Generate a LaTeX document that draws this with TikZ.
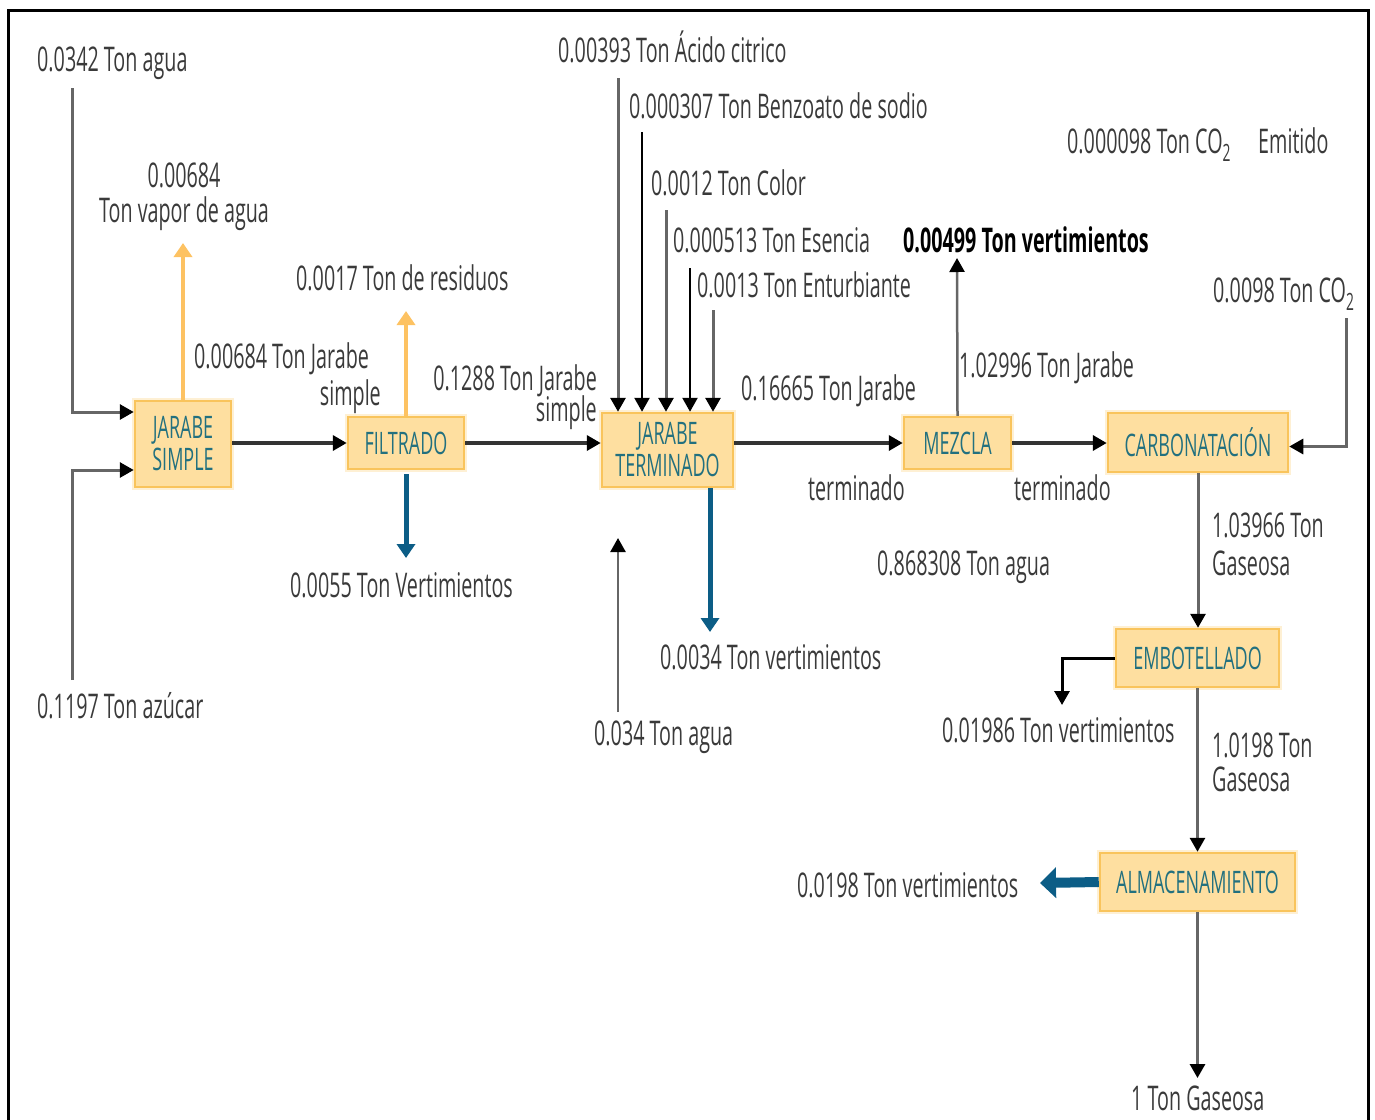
\documentclass[tikz,border=0pt]{standalone}
\usepackage{fontspec}
\setmainfont{Open Sans}[FakeStretch=0.58]
\usetikzlibrary{arrows.meta}
\definecolor{boxfill}{HTML}{FEDFA0}
\definecolor{boxline}{HTML}{F9C45C}
\definecolor{boxhalo}{HTML}{FEF0D4}
\definecolor{boxtext}{HTML}{22707F}
\definecolor{orangearr}{HTML}{FDC262}
\definecolor{bluearr}{HTML}{0C5D86}
\definecolor{labeltext}{HTML}{3A3A3A}
\definecolor{greyline}{HTML}{666666}
\begin{document}
\begin{tikzpicture}[x=1pt,y=-1pt,
 proc/.style={draw=boxline, line width=2.5pt, fill=boxfill, text=boxtext,
   font=\fontsize{31}{32}\selectfont, align=center, inner sep=0pt,
   preaction={draw=boxhalo, line width=6pt}},
 lbl/.style={text=labeltext, font=\fontsize{34}{36}\selectfont, inner sep=0pt, anchor=base west},
 lblr/.style={lbl, anchor=base east},
 blacktip/.style={-{Triangle[length=14pt,width=15pt,color=black]}},
 mainarr/.style={draw=black!80, line width=4pt, blacktip},
 inarr/.style={draw=greyline, line width=3pt, blacktip},
 thinarr/.style={draw=greyline, line width=2.5pt, blacktip},
 orarr/.style={draw=orangearr, line width=4pt, -{Triangle[length=14pt,width=18pt]}},
 bluearrow/.style={draw=bluearr, line width=5pt, -{Triangle[length=14pt,width=18pt]}},
 bigblue/.style={draw=bluearr, line width=10pt, -{Triangle[length=16pt,width=30pt]}},
]
\useasboundingbox (0,0) rectangle (1375,1119);
% frame
\draw[line width=3pt] (8,1125) -- (8,10) -- (1368,10) -- (1368,1125);

% process boxes
\node[proc, minimum width=96pt, minimum height=86pt] (JS) at (183,444) {JARABE\\SIMPLE};
\node[proc, minimum width=116pt, minimum height=52pt] (FIL) at (406,443) {FILTRADO};
\node[proc, minimum width=131pt, minimum height=74pt] (JT) at (667.5,450) {JARABE\\TERMINADO};
\node[proc, minimum width=107pt, minimum height=52pt] (MEZ) at (957.5,443) {MEZCLA};
\node[proc, minimum width=180pt, minimum height=59pt] (CAR) at (1198,442.5) {CARBONATACIÓN};
\node[proc, minimum width=163pt, minimum height=58pt] (EMB) at (1197.5,658) {EMBOTELLADO};
\node[proc, minimum width=195pt, minimum height=58pt] (ALM) at (1197.5,882) {ALMACENAMIENTO};

% labels
\node[lbl] (l1) at (37,71) {0.0342 Ton agua};
\node[lbl, anchor=base] (l2a) at (184,187) {0.00684};
\node[lbl, anchor=base] (l2b) at (184,222) {Ton vapor de agua};
\node[lbl] (l3) at (296,290) {0.0017 Ton de residuos};
\node[lbl] (l4a) at (194,368) {0.00684 Ton Jarabe};
\node[lblr] (l4b) at (381,405) {simple};
\node[lblr] (l5a) at (597,390) {0.1288 Ton Jarabe};
\node[lblr] (l5b) at (597,421) {simple};
\node[lbl] (l6) at (290,597) {0.0055 Ton Vertimientos};
\node[lbl] (l7) at (37,718) {0.1197 Ton azúcar};
\node[lbl] (l8) at (558,62) {0.00393 Ton Ácido citrico};
\node[lbl] (l9) at (629,118) {0.000307 Ton Benzoato de sodio};
\node[lbl] (l10) at (651,195) {0.0012 Ton Color};
\node[lbl] (l11) at (673,252) {0.000513 Ton Esencia};
\node[lbl] (l12) at (697,297) {0.0013 Ton Enturbiante};
\node[lbl, text=black, font=\fontsize{34}{36}\selectfont\bfseries] (l13) at (903,252) {0.00499 Ton vertimientos};
\node[lbl] (l14) at (1067,153) {0.000098 Ton CO\textsubscript{2}};
\node[lbl] (l14b) at (1258,153) {Emitido};
\node[lbl] (l15) at (1213,302) {0.0098 Ton CO\textsubscript{2}};
\node[lbl] (l16) at (959,377) {1.02996 Ton Jarabe};
\node[lbl] (l17) at (741,400) {0.16665 Ton Jarabe};
\node[lbl] (l18) at (808,500) {terminado};
\node[lbl] (l19) at (1014,500) {terminado};
\node[lbl] (l20) at (877,575) {0.868308 Ton agua};
\node[lbl] (l21) at (660,669) {0.0034 Ton vertimientos};
\node[lbl] (l22) at (594,745) {0.034 Ton agua};
\node[lbl] (l23a) at (1212,537) {1.03966 Ton};
\node[lbl] (l23b) at (1212,575) {Gaseosa};
\node[lbl] (l24) at (942,742) {0.01986 Ton vertimientos};
\node[lbl] (l25a) at (1212,757) {1.0198 Ton};
\node[lbl] (l25b) at (1212,791) {Gaseosa};
\node[lbl] (l26) at (797,897) {0.0198 Ton vertimientos};
\node[lbl] (l27) at (1131,1110) {1 Ton Gaseosa};

% free ends
\coordinate (w1) at (72,88);
\coordinate (s1) at (72,680);
\coordinate (vap) at (183,243);
\coordinate (res) at (406,311);
\coordinate (ver1) at (406,558);
\coordinate (c1) at (618,78);
\coordinate (c2) at (642,132);
\coordinate (c3) at (666,210);
\coordinate (c4) at (690,268);
\coordinate (c5) at (713,310);
\coordinate (a1) at (618,712);
\coordinate (a2) at (618,538);
\coordinate (ver2) at (710,632);
\coordinate (ver3) at (957,258);
\coordinate (co2) at (1346,318);
\coordinate (ver4) at (1062,705);
\coordinate (ver5) at (1040,883);
\coordinate (fin) at (1197.5,1078);

% connectors
\draw[inarr] (w1) |- ([yshift=32pt]JS.west);
\draw[inarr] (s1) |- ([yshift=-26pt]JS.west);
\draw[orarr] (JS.north) -- (vap);
\draw[mainarr] (JS.east |- FIL.west) -- (FIL.west);
\draw[orarr] (FIL.north) -- (res);
\draw[bluearrow] ([yshift=-4pt]FIL.south) -- (ver1);
\draw[mainarr] (FIL.east) -- (FIL.east -| JT.west);
\draw[inarr] (c1) -- (c1 |- JT.north);
\draw[draw=black, line width=2.5pt, blacktip] (c2) -- (c2 |- JT.north);
\draw[inarr] (c3) -- (c3 |- JT.north);
\draw[draw=black, line width=2.5pt, blacktip] (c4) -- (c4 |- JT.north);
\draw[inarr] (c5) -- (c5 |- JT.north);
\draw[thinarr] (a1) -- (a2);
\draw[bluearrow] (ver2 |- JT.south) -- (ver2);
\draw[mainarr] (MEZ.west -| JT.east) -- (MEZ.west);
\draw[thinarr] (MEZ.north) -- (ver3);
\draw[mainarr] (MEZ.east) -- (MEZ.east -| CAR.west);
\draw[inarr] (co2) |- ([yshift=-4pt]CAR.east);
\draw[inarr] (CAR.south) -- (CAR.south |- EMB.north);
\draw[draw=black, line width=3pt, blacktip] (EMB.west) -| (ver4);
\draw[inarr] (EMB.south) -- (ALM.north);
\draw[bigblue] (ALM.west) -- (ver5);
\draw[inarr] (ALM.south) -- (fin);
\end{tikzpicture}
\end{document}
